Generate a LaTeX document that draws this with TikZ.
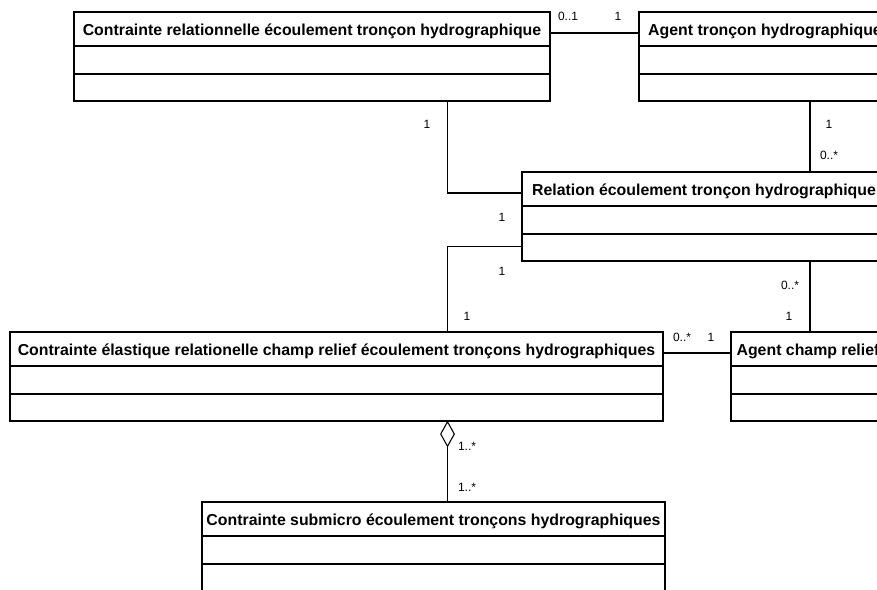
\documentclass[tikz,border=0pt]{standalone}
\usepackage{fontspec}
\setmainfont{Liberation Sans}
\usetikzlibrary{positioning, shapes.geometric}
\newlength{\pxu}\setlength{\pxu}{0.75pt}

\begin{document}
\begin{tikzpicture}[
  x=\pxu, y=-\pxu,
  every node/.style={font=\fontsize{9pt}{11pt}\selectfont},
  part/.style  = {draw, line width=1pt, outer sep=0pt, inner sep=0pt, minimum width=#1},
  head/.style  = {part=#1, anchor=north west, minimum height=34\pxu, text height=12.5pt, text depth=2.5pt,
                  font=\fontsize{11.9pt}{14pt}\selectfont\bfseries},
  comp/.style  = {part=#1, minimum height=28\pxu},
  oper/.style  = {part=#1, minimum height=27\pxu},
  assoc/.style = {line width=0.8pt},
  agg/.style   = {diamond, draw, line width=0.8pt, fill=white, inner sep=0pt, minimum width=14\pxu, minimum height=25\pxu},
]
  \useasboundingbox (0,0) rectangle (877,589);
  \clip (0,0) rectangle (877,589);
  % Classes: name / left / top / width / title, then two empty compartments.
  \foreach \n/\x/\y/\w/\t in {
      crel/74/12/476/{Contrainte relationnelle écoulement tronçon hydrographique},
      atron/639/12/252/{Agent tronçon hydrographique},
      reltron/522/172/364/{Relation écoulement tronçon hydrographique},
      cel/10/332/653/{Contrainte élastique relationelle champ relief écoulement tronçons hydrographiques},
      achamp/731/332/154/{Agent champ relief},
      csub/202/502/463/{Contrainte submicro écoulement tronçons hydrographiques}} {
    \node[head=\w\pxu] (\n) at (\x,\y) {\t};
    \node[comp=\w\pxu, below=0pt of \n] (\n-a) {};
    \node[oper=\w\pxu, below=0pt of \n-a] (\n-o) {};
  }
  \coordinate (spine) at (447.5,0);
  \coordinate (rcol) at (810,0);

  % Associations
  \draw[assoc] ([yshift=-3pt]crel.east) -- ([yshift=-3pt]atron.west);
  \draw[assoc] (crel-o.south -| spine) |- ([yshift=-3pt]reltron.west);
  \draw[assoc] ([yshift=1pt]reltron-o.west) -| (cel.north -| spine);
  \draw[assoc] (atron-o.south -| rcol) -- (reltron.north -| rcol);
  \draw[assoc] (reltron-o.south -| rcol) -- (achamp.north -| rcol);
  \draw[assoc] ([yshift=-3pt]cel.east) -- ([yshift=-3pt]achamp.west);
  % Aggregation
  \node[agg, anchor=north] (agg) at (cel-o.south -| spine) {};
  \draw[assoc] (agg.south) -- (csub.north -| spine);

  % Multiplicities
  \foreach \x/\y/\t [count=\i] in {568/16/0..1, 618/16/1, 427/124/1, 829/124/1,
      829/155/0..*, 502/217/1, 502/271/1, 467/316/1, 790/285/0..*, 789/316/1,
      682/337/0..*, 711/337/1, 467/446/1..*, 467/487/1..*}
    \node (m\i) at (\x,\y) {\t};
\end{tikzpicture}
\end{document}
